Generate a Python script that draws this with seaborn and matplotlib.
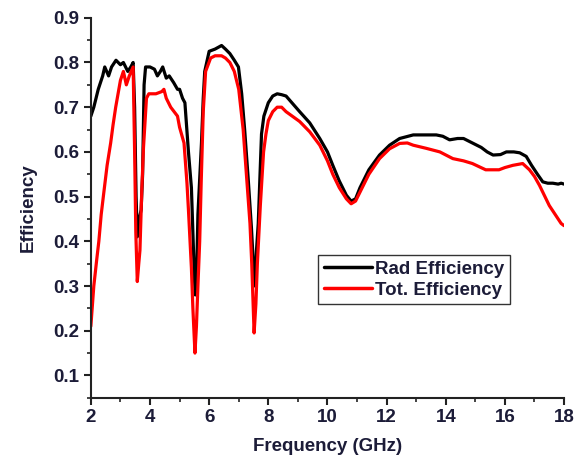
import numpy as np
import pandas as pd
import matplotlib
matplotlib.use("Agg")
import matplotlib.pyplot as plt
import seaborn as sns
from matplotlib.ticker import MultipleLocator

sns.set_style("ticks")
plt.rcParams['font.family'] = ['Liberation Sans', 'DejaVu Sans']

rad_freq = [2.0, 2.1, 2.25, 2.4, 2.47, 2.6, 2.7, 2.85, 3.0, 3.1, 3.25, 3.35, 3.43, 3.48, 3.53, 3.57,
            3.63, 3.7, 3.75, 3.8, 3.85, 4.0, 4.15, 4.25, 4.35, 4.43, 4.55, 4.65, 4.8, 4.93, 5.0, 5.1,
            5.18, 5.3, 5.4, 5.45, 5.5, 5.53, 5.58, 5.62, 5.68, 5.74, 5.8, 5.85, 6.0, 6.2, 6.42, 6.55,
            6.7, 6.85, 6.99, 7.1, 7.2, 7.32, 7.43, 7.51, 7.55, 7.6, 7.66, 7.72, 7.77, 7.85, 8.0, 8.15,
            8.3, 8.45, 8.6, 9.06, 9.4, 9.74, 10.0, 10.18, 10.4, 10.64, 10.8, 10.95, 11.1, 11.4, 11.76,
            12.1, 12.44, 12.9, 13.3, 13.68, 13.9, 14.13, 14.4, 14.6, 14.9, 15.2, 15.4, 15.6, 15.85,
            16.05, 16.3, 16.5, 16.72, 16.9, 17.1, 17.28, 17.45, 17.62, 17.8, 17.9, 18.0]
rad_eff = [0.68, 0.70, 0.74, 0.77, 0.79, 0.77, 0.79, 0.805, 0.795, 0.80, 0.78, 0.79, 0.80, 0.70, 0.50, 0.41,
           0.45, 0.47, 0.55, 0.75, 0.79, 0.79, 0.785, 0.77, 0.78, 0.79, 0.765, 0.77, 0.755, 0.74, 0.74, 0.72,
           0.71, 0.60, 0.52, 0.42, 0.32, 0.28, 0.34, 0.46, 0.54, 0.62, 0.72, 0.78, 0.825, 0.83, 0.838, 0.83,
           0.82, 0.805, 0.79, 0.73, 0.65, 0.54, 0.43, 0.33, 0.30, 0.38, 0.44, 0.55, 0.64, 0.68, 0.71, 0.725,
           0.73, 0.728, 0.725, 0.69, 0.665, 0.63, 0.60, 0.57, 0.535, 0.503, 0.49, 0.495, 0.52, 0.56, 0.593,
           0.615, 0.63, 0.638, 0.638, 0.638, 0.635, 0.627, 0.63, 0.63, 0.62, 0.61, 0.60, 0.593, 0.594,
           0.60, 0.60, 0.598, 0.59, 0.57, 0.55, 0.533, 0.53, 0.53, 0.528, 0.53, 0.528]

tot_freq = [2.0, 2.1, 2.2, 2.27, 2.35, 2.44, 2.55, 2.67, 2.75, 2.84, 2.92, 3.0, 3.1, 3.2, 3.3, 3.43,
            3.48, 3.52, 3.57, 3.62, 3.66, 3.72, 3.78, 3.88, 3.96, 4.2, 4.4, 4.47, 4.55, 4.7, 4.93, 5.0,
            5.15, 5.25, 5.3, 5.4, 5.45, 5.52, 5.57, 5.62, 5.68, 5.73, 5.8, 5.88, 6.05, 6.2, 6.42, 6.55,
            6.7, 6.85, 7.0, 7.15, 7.27, 7.38, 7.44, 7.52, 7.58, 7.63, 7.73, 7.84, 7.92, 8.0, 8.15, 8.3,
            8.45, 8.6, 9.06, 9.4, 9.74, 10.0, 10.18, 10.4, 10.64, 10.8, 10.95, 11.1, 11.4, 11.76, 12.1,
            12.44, 12.7, 12.9, 13.34, 13.8, 14.24, 14.6, 14.9, 15.35, 15.8, 16.0, 16.27, 16.6, 16.83,
            17.0, 17.17, 17.5, 17.9, 18.0]
tot_eff = [0.21, 0.30, 0.36, 0.40, 0.46, 0.51, 0.57, 0.62, 0.66, 0.70, 0.73, 0.76, 0.78, 0.75, 0.77, 0.79,
           0.60, 0.42, 0.31, 0.35, 0.38, 0.51, 0.61, 0.72, 0.73, 0.73, 0.735, 0.74, 0.72, 0.70, 0.68, 0.655,
           0.62, 0.53, 0.47, 0.34, 0.25, 0.15, 0.21, 0.30, 0.40, 0.53, 0.69, 0.78, 0.81, 0.815, 0.815, 0.81,
           0.80, 0.78, 0.74, 0.65, 0.54, 0.44, 0.35, 0.195, 0.26, 0.35, 0.48, 0.60, 0.64, 0.67, 0.69, 0.70,
           0.70, 0.69, 0.668, 0.645, 0.615, 0.58, 0.55, 0.52, 0.495, 0.484, 0.49, 0.51, 0.55, 0.585, 0.607,
           0.619, 0.62, 0.615, 0.608, 0.60, 0.585, 0.58, 0.574, 0.56, 0.56, 0.565, 0.57, 0.574, 0.56,
           0.545, 0.525, 0.48, 0.44, 0.435]

series_names = ["Rad Efficiency", "Tot. Efficiency"]
x_ticks = [2, 4, 6, 8, 10, 12, 14, 16, 18]
y_ticks = [0.1, 0.2, 0.3, 0.4, 0.5, 0.6, 0.7, 0.8, 0.9]

df = pd.concat([
    pd.DataFrame({"Frequency": rad_freq, "Efficiency": rad_eff, "Series": series_names[0]}),
    pd.DataFrame({"Frequency": tot_freq, "Efficiency": tot_eff, "Series": series_names[1]}),
])

fig = plt.figure(figsize=(5.75, 4.68), dpi=100)
ax = fig.add_axes([0.158, 0.150, 0.823, 0.812])

sns.lineplot(data=df, x="Frequency", y="Efficiency", hue="Series", sort=False,
             palette={series_names[0]: "black", series_names[1]: "#ff0000"},
             linewidth=2.3, ax=ax, legend=True)

ax.set_xlim(2, 18)
ax.set_ylim(0.05, 0.9)
ax.set_xticks(x_ticks)
ax.set_yticks(y_ticks)
ax.xaxis.set_minor_locator(MultipleLocator(1))
ax.yaxis.set_minor_locator(MultipleLocator(0.05))
ax.set_xticklabels([str(t) for t in x_ticks])
ax.set_yticklabels([f"{t:.1f}" for t in y_ticks])

for s in ["top", "right"]:
    ax.spines[s].set_visible(False)
for s in ["left", "bottom"]:
    ax.spines[s].set_linewidth(1.5)
    ax.spines[s].set_color("#222222")

ax.tick_params(which="major", direction="out", length=5, width=1.5, color="#222222",
               labelsize=13.5, labelcolor="#1c1c38", pad=3)
ax.tick_params(which="minor", direction="out", length=3, width=1.2, color="#222222")
for lab in ax.get_xticklabels() + ax.get_yticklabels():
    lab.set_fontweight("bold")

ax.set_xlabel("Frequency (GHz)", fontsize=13.5, fontweight="bold", color="#1c1c38", labelpad=9)
ax.set_ylabel("Efficiency", fontsize=13.5, fontweight="bold", color="#1c1c38", labelpad=12)

leg = ax.legend(loc="upper left", bbox_to_anchor=(0.48, 0.376), frameon=True, fancybox=False,
                edgecolor="black", handlelength=2.6, handletextpad=0.15,
                borderpad=0.3, labelspacing=0.2, borderaxespad=0,
                prop={"weight": "bold", "size": 13.5})
leg.get_frame().set_linewidth(1.0)
for t in leg.get_texts():
    t.set_color("#1c1c38")
for line in leg.get_lines():
    line.set_linewidth(2.5)

fig.savefig("out.png", dpi=100)
